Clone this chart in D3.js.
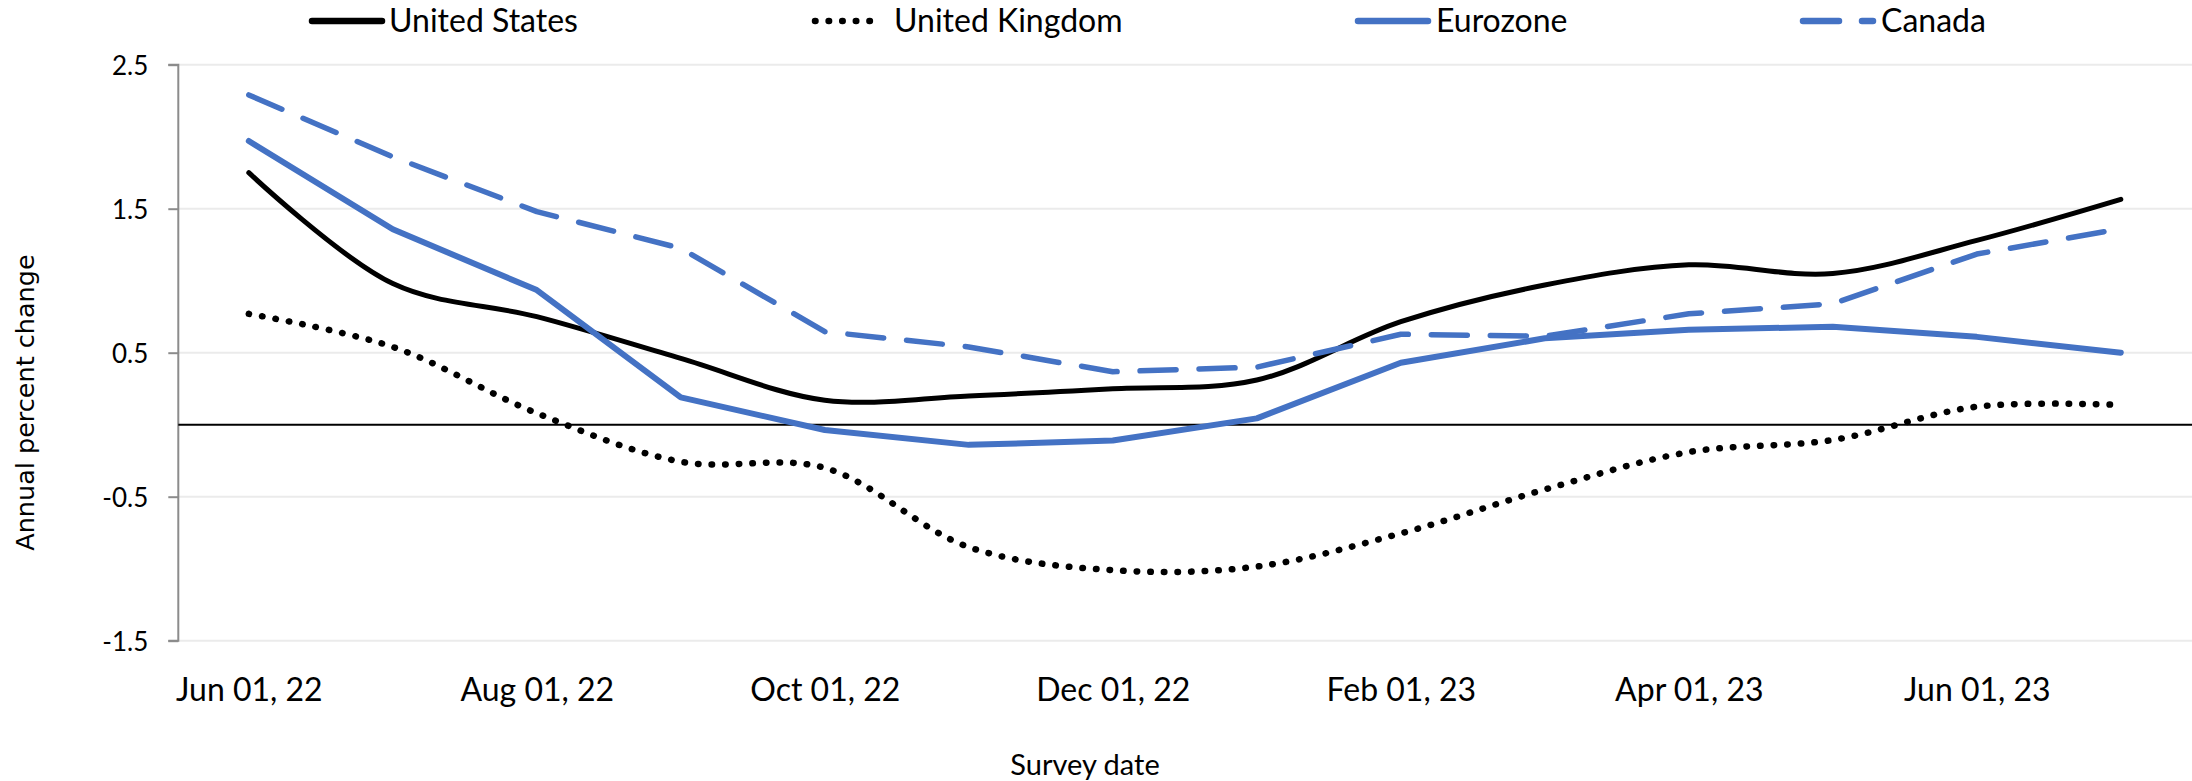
<!DOCTYPE html>
<html>
<head>
<meta charset="utf-8">
<script src="https://cdn.jsdelivr.net/npm/d3@7"></script>
<style>
  html, body { margin: 0; padding: 0; background: #fff; }
  svg { display: block; }
</style>
</head>
<body>
<svg id="chart" width="2192" height="781"></svg>
<script>
// ---- Data ----
const surveyDates = ["2022-06-01","2022-07-01","2022-08-01","2022-09-01","2022-10-01","2022-11-01","2022-12-01",
                     "2023-01-01","2023-02-01","2023-03-01","2023-04-01","2023-05-01","2023-06-01","2023-07-01"];
const unitedStates  = [1.75, 0.98, 0.75, 0.46, 0.17, 0.20, 0.25, 0.31, 0.715, 0.97, 1.11, 1.05, 1.28, 1.565];
const unitedKingdom = [0.77, 0.54, 0.08, -0.257, -0.30, -0.85, -1.01, -0.985, -0.755, -0.45, -0.19, -0.106, 0.125, 0.137];
const eurozone      = [1.97, 1.357, 0.935, 0.19, -0.037, -0.14, -0.11, 0.044, 0.43, 0.60, 0.66, 0.68, 0.61, 0.50];
const canada        = [2.29, 1.86, 1.48, 1.225, 0.646, 0.54, 0.368, 0.40, 0.628, 0.615, 0.77, 0.84, 1.185, 1.36];
const seriesNames   = ["United States", "United Kingdom", "Eurozone", "Canada"];
const yTickValues   = [-1.5, -0.5, 0.5, 1.5, 2.5];
const xTickDates    = ["2022-06-01","2022-08-01","2022-10-01","2022-12-01","2023-02-01","2023-04-01","2023-06-01"];
const yAxisTitle    = "Annual percent change";
const xAxisTitle    = "Survey date";

// ---- Layout ----
const W = 2192, H = 781;
const plotLeft = 178.3, plotRight = 2192;
const firstX = 248.8, lastX = 2120.8;
const yTop = 64.7, yBottom = 640.7;
const BLUE = "#4472C4";

const svg = d3.select("#chart");
const x = d3.scalePoint().domain(surveyDates).range([firstX, lastX]);
const y = d3.scaleLinear().domain([-1.5, 2.5]).range([yBottom, yTop]);
const fmt = d3.timeFormat("%b %d, %y");
const parse = d3.timeParse("%Y-%m-%d");
const yFmt = d => d.toFixed(1);

// gridlines
svg.append("g").selectAll("line").data(yTickValues).join("line")
  .attr("x1", plotLeft).attr("x2", plotRight)
  .attr("y1", d => y(d)).attr("y2", d => y(d))
  .attr("stroke", "#ebebeb").attr("stroke-width", 2);

// y axis
const yAxis = d3.axisLeft(y).tickValues(yTickValues).tickSize(10).tickPadding(20).tickFormat(yFmt);
const gy = svg.append("g").attr("transform", `translate(${plotLeft},0)`).call(yAxis);
gy.select(".domain").attr("stroke", "#8c8c8c").attr("stroke-width", 2).attr("d", `M-10,${y(2.5)}H0V${y(-1.5)}H-10`);
gy.selectAll(".tick line").attr("stroke", "#8c8c8c").attr("stroke-width", 2);
gy.selectAll(".tick text").attr("font-family", "Lato, sans-serif").attr("font-size", 26).attr("fill", "#000")
  .attr("dy", "0.36em");

// zero line
svg.append("line").attr("x1", plotLeft).attr("x2", plotRight)
  .attr("y1", y(0)).attr("y2", y(0)).attr("stroke", "#000").attr("stroke-width", 2);

// x axis labels
const xAxis = d3.axisBottom(x).tickValues(xTickDates).tickSize(0).tickPadding(0)
  .tickFormat(d => fmt(parse(d)));
const gx = svg.append("g").attr("transform", `translate(0,${yBottom})`).call(xAxis);
gx.select(".domain").remove();
gx.selectAll(".tick text").attr("font-family", "Lato, sans-serif").attr("font-size", 32).attr("fill", "#000")
  .attr("y", 60).attr("dy", 0);

// series
const seriesData = [
  { name: seriesNames[0], values: unitedStates,  color: "#000", width: 5,   dash: null,      curve: d3.curveCatmullRom.alpha(0.5) },
  { name: seriesNames[1], values: unitedKingdom, color: "#000", width: 6.5, dash: "0.5,13.1", curve: d3.curveCatmullRom.alpha(0.5) },
  { name: seriesNames[2], values: eurozone,      color: BLUE,   width: 6,   dash: null,      curve: d3.curveLinear },
  { name: seriesNames[3], values: canada,        color: BLUE,   width: 5.5, dash: "36,23",   curve: d3.curveLinear }
];
const drawOrder = [1, 0, 3, 2];
drawOrder.forEach(i => {
  const s = seriesData[i];
  const line = d3.line().x((d, j) => x(surveyDates[j])).y(d => y(d)).curve(s.curve);
  svg.append("path").attr("d", line(s.values))
    .attr("fill", "none").attr("stroke", s.color).attr("stroke-width", s.width)
    .attr("stroke-linecap", "round").attr("stroke-linejoin", "round")
    .attr("stroke-dasharray", s.dash);
});

// legend
const legendX = [312, 815, 1358, 1803];
const legendTextX = [389, 894, 1436, 1881];
const legendY = 21;
seriesData.forEach((s, i) => {
  const g = svg.append("g");
  g.append("line").attr("x1", legendX[i]).attr("x2", legendX[i] + (i === 1 ? 58 : 70))
    .attr("y1", legendY).attr("y2", legendY)
    .attr("stroke", s.color).attr("stroke-width", i === 1 ? 6.5 : 6.5)
    .attr("stroke-linecap", "round").attr("stroke-dasharray", s.dash);
  g.append("text").attr("x", legendTextX[i]).attr("y", 32.3).text(s.name)
    .attr("font-family", "Lato, sans-serif").attr("font-size", 32).attr("fill", "#000");
});

// axis titles
svg.append("text").attr("transform", `translate(34,402.6) rotate(-90)`).attr("text-anchor", "middle")
  .attr("font-family", "'DejaVu Sans', sans-serif").attr("font-size", 25.5).attr("fill", "#000").text(yAxisTitle);
svg.append("text").attr("x", 1085).attr("y", 775).attr("text-anchor", "middle")
  .attr("font-family", "Lato, sans-serif").attr("font-size", 29).attr("fill", "#000").text(xAxisTitle);
</script>
</body>
</html>
